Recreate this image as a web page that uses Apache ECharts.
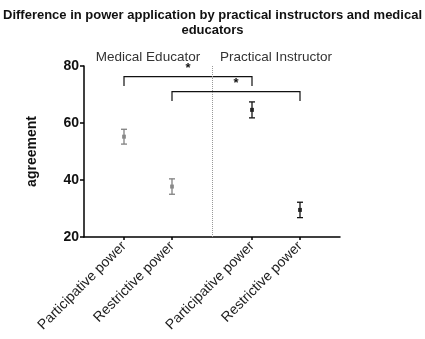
<!DOCTYPE html>
<html>
<head>
<meta charset="utf-8">
<script src="https://cdn.jsdelivr.net/npm/echarts@6/dist/echarts.min.js"></script>
<style>
  html, body { margin: 0; padding: 0; background: #fff; }
  #main { width: 425px; height: 339px; }
</style>
</head>
<body>
<div id="main"></div>
<script>
// 数据
const groups = ['Medical Educator', 'Practical Instructor']
const groupCenters = [1.6, 4.8]
const categories = ['Participative power', 'Restrictive power', 'Participative power', 'Restrictive power']
const positions = [1, 2.2, 4.2, 5.4]
const means = [55.2, 37.7, 64.6, 29.5]
const errs = [2.6, 2.7, 2.8, 2.7]
const colors = ['#808080', '#808080', '#111111', '#111111']
const dividerAt = 3.2
// 显著性标记: [起点, 终点, 高度, 竖线下端]
const brackets = [[1, 4.2, 76.3, 73], [2.2, 5.4, 71, 67.7]]

let myChart = echarts.init(document.getElementById('main'))

let pointData = positions.map((x, i) => ({
  value: [x, means[i]],
  itemStyle: { color: colors[i] }
}))
let errData = positions.map((x, i) => [x, means[i] - errs[i], means[i] + errs[i], i])

let option = {
  animation: false,
  textStyle: { fontFamily: 'Liberation Sans, Arial, sans-serif' },
  title: {
    text: 'Difference in power application by practical instructors and medical\neducators',
    left: 'center',
    top: 3,
    textStyle: { fontSize: 13, fontWeight: 'bold', color: '#111', lineHeight: 15 }
  },
  grid: { left: 84, right: 85, top: 66, bottom: 102 },
  xAxis: {
    type: 'value',
    min: 0,
    max: 6.4,
    splitLine: { show: false },
    axisLine: { lineStyle: { color: '#000', width: 1.5 } },
    axisTick: { customValues: positions, length: 3, lineStyle: { color: '#000', width: 1.5 } },
    axisLabel: {
      customValues: positions,
      rotate: 45,
      margin: 7,
      fontSize: 14,
      color: '#222',
      formatter: v => categories[positions.indexOf(v)] || ''
    }
  },
  yAxis: {
    type: 'value',
    min: 20,
    max: 80,
    interval: 20,
    name: 'agreement',
    nameLocation: 'middle',
    nameGap: 45,
    nameTextStyle: { fontSize: 14, fontWeight: 'bold', color: '#111' },
    splitLine: { show: false },
    axisLine: { show: true, lineStyle: { color: '#000', width: 1.5 } },
    axisTick: { show: true, length: 4, lineStyle: { color: '#000', width: 1.5 } },
    axisLabel: { fontSize: 14, fontWeight: 'bold', color: '#111', margin: 5 }
  },
  series: [
    {
      type: 'scatter',
      symbol: 'rect',
      symbolSize: 4,
      data: pointData,
      markLine: {
        silent: true,
        symbol: 'none',
        label: { show: false },
        lineStyle: { color: '#999', type: 'dotted', width: 1 },
        data: [{ xAxis: dividerAt }]
      }
    },
    {
      // 误差线
      type: 'custom',
      data: errData,
      renderItem: (params, api) => {
        let x = api.value(0)
        let lo = api.coord([x, api.value(1)])
        let hi = api.coord([x, api.value(2)])
        let c = colors[api.value(3)]
        let w = 3
        let style = { stroke: c, lineWidth: 1.3 }
        return {
          type: 'group',
          children: [
            { type: 'line', shape: { x1: lo[0], y1: lo[1], x2: hi[0], y2: hi[1] }, style },
            { type: 'line', shape: { x1: lo[0] - w, y1: lo[1], x2: lo[0] + w, y2: lo[1] }, style },
            { type: 'line', shape: { x1: hi[0] - w, y1: hi[1], x2: hi[0] + w, y2: hi[1] }, style }
          ]
        }
      }
    },
    {
      // 显著性括号
      type: 'custom',
      data: brackets,
      renderItem: (params, api) => {
        let a = api.coord([api.value(0), api.value(3)])
        let b = api.coord([api.value(0), api.value(2)])
        let c = api.coord([api.value(1), api.value(2)])
        let d = api.coord([api.value(1), api.value(3)])
        return {
          type: 'group',
          children: [
            { type: 'polyline', shape: { points: [a, b, c, d] }, style: { stroke: '#111', lineWidth: 1.2, fill: null } },
            {
              type: 'text',
              style: {
                text: '*', x: (b[0] + c[0]) / 2, y: b[1] - 2,
                align: 'center', verticalAlign: 'bottom',
                fontSize: 13, fontWeight: 'bold', fill: '#111'
              }
            }
          ]
        }
      }
    },
    {
      // 分组标签
      type: 'custom',
      data: groupCenters.map((x, i) => [x, 80, i]),
      renderItem: (params, api) => {
        let p = api.coord([api.value(0), api.value(1)])
        return {
          type: 'text',
          style: {
            text: groups[api.value(2)], x: p[0], y: p[1] - 2,
            align: 'center', verticalAlign: 'bottom',
            fontSize: 13.5, fill: '#333'
          }
        }
      }
    }
  ]
}

myChart.setOption(option)
</script>
</body>
</html>
